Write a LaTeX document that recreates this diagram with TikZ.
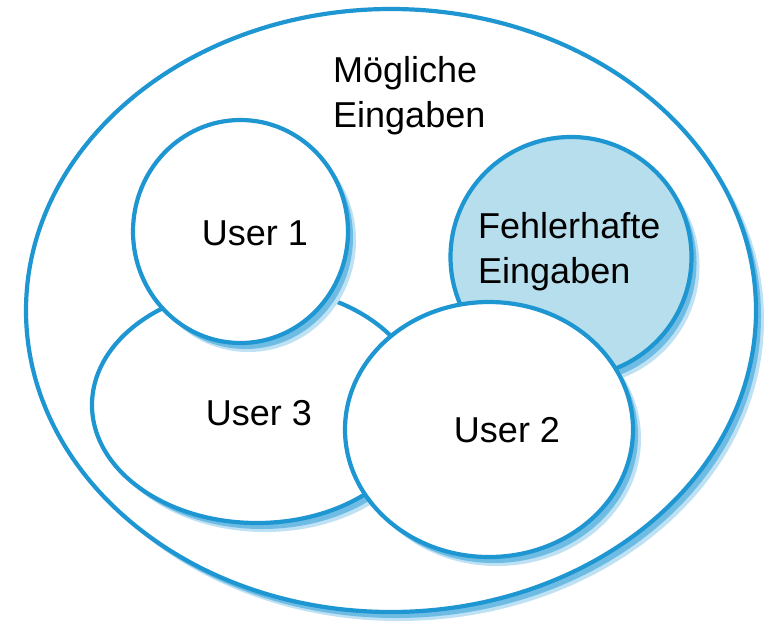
\documentclass[tikz,border=0pt]{standalone}
\usepackage{fontspec}
\setmainfont{Liberation Sans}
\definecolor{setline}{RGB}{30,150,210}
\definecolor{shadowdark}{RGB}{110,188,228}
\definecolor{shadowlight}{RGB}{190,225,243}
\definecolor{errfill}{RGB}{182,222,236}
\tikzset{
  setborder/.style={draw=setline, line width=4.2pt},
  label/.style={inner sep=0pt, font=\fontsize{36}{45}\selectfont, align=left, text=black},
}
% draws a set as an ellipse with a soft offset shadow
\newcommand{\venset}[5]{%
  \fill[shadowlight] (#1+8,#2+9) ellipse [x radius=#3, y radius=#4];
  \fill[shadowdark] (#1+5,#2+6) ellipse [x radius=#3, y radius=#4];
  \path[setborder, fill=#5] (#1,#2) ellipse [x radius=#3, y radius=#4];
}
\begin{document}
\begin{tikzpicture}[x=1pt, y=-1pt]
  \useasboundingbox (0,0) rectangle (767,627);
  \fill[white] (0,0) rectangle (767,627);

  % universe of all inputs
  \venset{391}{310.5}{365}{301.5}{white}
  % overlapping user sets and erroneous inputs
  \venset{257}{405}{165}{118}{white}
  \venset{240.5}{231.5}{107.5}{111.5}{white}
  \venset{571}{257}{120.5}{120}{errfill}
  \venset{489}{429.5}{144}{127.5}{white}

  % multi-line labels are placed by the baseline of their last line
  \node[label, anchor=base west] (all) at (333,127) {Mögliche\\Eingaben};
  \node[label, anchor=base west] (err) at (478,283) {Fehlerhafte\\Eingaben};
  \node[label, anchor=base] (u1) at (255,245) {User 1};
  \node[label, anchor=base] (u3) at (259,425) {User 3};
  \node[label, anchor=base] (u2) at (507,442) {User 2};
\end{tikzpicture}
\end{document}
